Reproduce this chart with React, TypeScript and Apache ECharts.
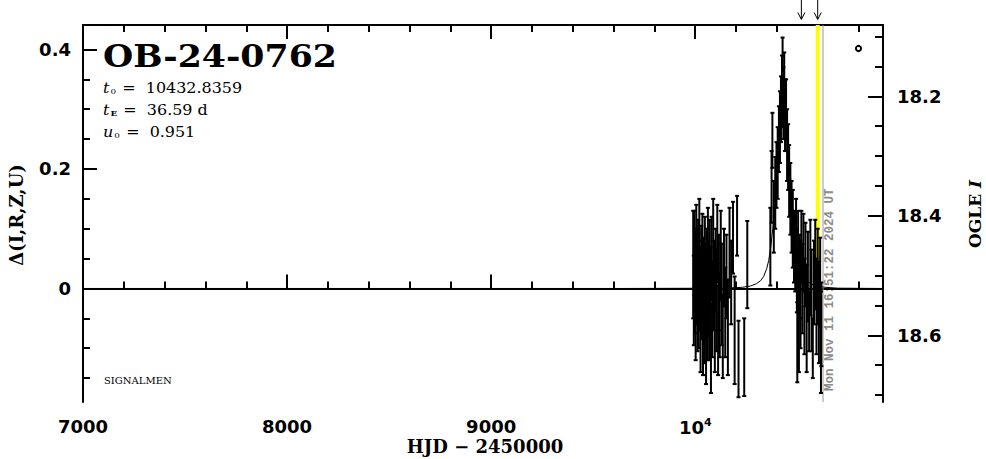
import React, { useEffect, useRef } from "react";
import * as echarts from "echarts";

// ---- axis ticks / labels ----
const xRange = [7000, 10920];
const xMajorTicks = [7000, 8000, 9000, 10000];
const xMinorTicks = [7200, 7400, 7600, 7800, 8200, 8400, 8600, 8800, 9200, 9400, 9600, 9800, 10200, 10400, 10600, 10800];
const deltaRange = [-0.19, 0.441];
const deltaMajorTicks = [0, 0.2, 0.4];
const deltaMinorTicks = [-0.15, -0.1, -0.05, 0.05, 0.1, 0.15, 0.25, 0.3, 0.35];
const baseMag = 18.5217;
const magMajorTicks = [18.2, 18.4, 18.6];
const magMinorTicks = [18.1, 18.15, 18.25, 18.3, 18.35, 18.45, 18.5, 18.55, 18.65, 18.7];

// ---- observations (HJD-2450000, delta mag, error) ----
const obsHjd = [
  9990, 9993, 9996, 9999, 10002, 10005, 10008, 10011, 10014, 10017, 10020, 10023, 10026, 10029, 10032,
  10035, 10038, 10041, 10044, 10047, 10050, 10053, 10056, 10059, 10062, 10065, 10068, 10071, 10074, 10077,
  10080, 10084, 10088, 10092, 10096, 10100, 10104, 10108, 10112, 10116, 10120, 10125, 10130, 10135, 10141,
  10147, 10153, 10160, 10168, 10176, 10185, 10193, 10205, 10212, 10240, 10255,
  10368, 10374, 10378, 10385, 10392, 10398, 10404, 10410, 10415, 10420, 10425, 10428, 10432, 10436, 10440, 10445,
  10450, 10455, 10460, 10466, 10472, 10478, 10484,
  10490, 10494, 10498, 10500, 10504, 10508, 10512, 10516, 10520, 10525, 10530, 10535, 10540, 10546, 10552,
  10558, 10564, 10570, 10576, 10582, 10588, 10594, 10600, 10606, 10612, 10616, 10618,
];
const obsDelta = [
  0.04, -0.02, 0.06, 0.01, -0.05, 0.08, 0.02, -0.03, 0.05, -0.01, 0.085, 0.0, -0.06, 0.03, -0.02,
  0.045, -0.07, 0.015, -0.04, 0.06, -0.005, -0.09, 0.025, -0.03, 0.07, 0.0, -0.05, 0.04, -0.015, -0.1,
  0.05, -0.035, 0.09, 0.005, -0.06, 0.03, -0.02, 0.075, -0.07, 0.01, -0.045, 0.055, -0.01, -0.08, 0.035,
  -0.04, 0.02, -0.065, 0.06, 0.01, 0.085, -0.07, 0.105, -0.118, -0.115, 0.04,
  0.07, 0.17, 0.248, 0.12, 0.16, 0.19, 0.21, 0.25, 0.27, 0.3, 0.33, 0.35, 0.31, 0.34, 0.29, 0.3,
  0.24, 0.22, 0.18, 0.15, 0.12, 0.1, 0.07,
  0.06, 0.09, 0.03, -0.09, 0.05, -0.085, 0.02, -0.01, 0.07, 0.0, 0.06, -0.03, 0.04, -0.05, 0.02,
  -0.055, 0.035, -0.02, -0.1, 0.01, 0.04, -0.03, 0.02, -0.04, 0.01, -0.09, -0.06,
];
const obsErr = [
  0.09, 0.075, 0.07, 0.085, 0.07, 0.06, 0.08, 0.075, 0.065, 0.09, 0.065, 0.07, 0.08, 0.075, 0.065,
  0.08, 0.075, 0.07, 0.085, 0.06, 0.08, 0.07, 0.075, 0.09, 0.065, 0.08, 0.07, 0.075, 0.085, 0.075,
  0.07, 0.08, 0.06, 0.075, 0.08, 0.07, 0.085, 0.065, 0.075, 0.08, 0.07, 0.075, 0.085, 0.07, 0.065,
  0.075, 0.07, 0.08, 0.075, 0.07, 0.06, 0.09, 0.05, 0.064, 0.065, 0.073,
  0.065, 0.06, 0.046, 0.06, 0.06, 0.055, 0.06, 0.055, 0.06, 0.055, 0.06, 0.07, 0.06, 0.055, 0.06, 0.05,
  0.06, 0.055, 0.06, 0.06, 0.06, 0.065, 0.06,
  0.065, 0.06, 0.07, 0.067, 0.08, 0.055, 0.07, 0.09, 0.06, 0.075, 0.065, 0.08, 0.07, 0.09, 0.075,
  0.05, 0.08, 0.085, 0.05, 0.07, 0.075, 0.08, 0.08, 0.085, 0.075, 0.085, 0.07,
];

// ---- model curve ----
const modelHjd = [7000, 9650, 10150, 10230, 10270, 10300, 10320, 10335, 10350, 10360, 10370, 10380, 10390, 10400, 10410, 10420, 10433,
  10446, 10456, 10466, 10476, 10486, 10496, 10506, 10516, 10531, 10546, 10566, 10596, 10636, 10700, 10920];
const modelDelta = [0, 0, 0.0005, 0.002, 0.004, 0.008, 0.013, 0.02, 0.033, 0.047, 0.07, 0.1, 0.14, 0.19, 0.24, 0.28, 0.3,
  0.28, 0.24, 0.19, 0.14, 0.1, 0.07, 0.047, 0.033, 0.02, 0.013, 0.008, 0.004, 0.002, 0.0005, 0];

// ---- markers ----
const highlightHjd = 10600;
const highlightBottom = -0.02;
const nowHjd = 10626.2;
const arrowHjd = [10520, 10600];

const eventName = "OB-24-0762";
const t0Text = "10432.8359";
const tEText = "36.59 d";
const u0Text = "0.951";
const stampText = "Mon Nov 11 16:51:22 2024 UT";

const labelFont = { fontFamily: "DejaVu Sans", fontWeight: "bold" as const, fontSize: 18, color: "#000" };

export default function App() {
  const ref = useRef<HTMLDivElement>(null);
  useEffect(() => {
    if (!ref.current) return;
    const chart = echarts.init(ref.current, undefined, { renderer: "svg" });
    const magMin = baseMag - deltaRange[1];
    const magMax = baseMag - deltaRange[0];
    const frame = { show: true, lineStyle: { color: "#000", width: 2 } };
    const noLine = { show: false };
    const mkX = (pos: string, ticks: number[], len: number, labels: boolean) => ({
      type: "value", position: pos, min: xRange[0], max: xRange[1], gridIndex: 0,
      axisLine: labels ? frame : noLine,
      splitLine: { show: false },
      axisTick: { show: true, inside: true, length: len, customValues: ticks, lineStyle: { color: "#000", width: 2 } },
      axisLabel: labels && pos === "bottom"
        ? {
            show: true, customValues: xMajorTicks, margin: 15, ...labelFont,
            formatter: (v: number) => (v === 10000 ? "{n|10}{s|4}" : String(v)),
            rich: {
              n: { ...labelFont },
              s: { fontFamily: "DejaVu Sans", fontWeight: "bold", fontSize: 11, color: "#000", padding: [0, 0, 9, 0] },
            },
          }
        : { show: false },
    });
    const mkY = (pos: string, ticks: number[], len: number, labels: boolean, mag: boolean) => ({
      type: "value", position: pos, gridIndex: 0,
      min: mag ? magMin : deltaRange[0], max: mag ? magMax : deltaRange[1], inverse: mag,
      axisLine: labels ? frame : noLine,
      splitLine: { show: false },
      axisTick: { show: true, inside: true, length: len, customValues: ticks, lineStyle: { color: "#000", width: 2 } },
      axisLabel: labels
        ? {
            show: true, customValues: mag ? magMajorTicks : deltaMajorTicks, margin: mag ? 14 : 12, ...labelFont,
            formatter: (v: number) => (mag ? v.toFixed(1) : v === 0 ? "0" : String(v)),
          }
        : { show: false },
    });

    const obsData = obsHjd.map((h, i) => [h, obsDelta[i], obsErr[i]]);
    const modelData = modelHjd.map((h, i) => [h, modelDelta[i]]);

    chart.setOption({
      animation: false,
      backgroundColor: "#fff",
      grid: { left: 83, right: 103, top: 25, bottom: 57 },
      xAxis: [
        mkX("bottom", xMajorTicks, 14, true),
        mkX("bottom", xMinorTicks, 7, false),
        mkX("top", xMajorTicks, 14, true),
        mkX("top", xMinorTicks, 7, false),
      ],
      yAxis: [
        mkY("left", deltaMajorTicks, 14, true, false),
        mkY("left", deltaMinorTicks, 7, false, false),
        mkY("right", magMajorTicks, 15, true, true),
        mkY("right", magMinorTicks, 8, false, true),
      ],
      series: [
        {
          type: "line", name: "now", xAxisIndex: 0, yAxisIndex: 0, silent: true, showSymbol: false,
          data: [[nowHjd, deltaRange[0]], [nowHjd, deltaRange[1]]],
          lineStyle: { color: "#9a9a9a", width: 1 }, z: 1,
        },
        {
          type: "line", name: "highlight", xAxisIndex: 0, yAxisIndex: 0, silent: true, showSymbol: false,
          data: [[highlightHjd, deltaRange[1]], [highlightHjd, highlightBottom]],
          lineStyle: { color: "#ffff00", width: 4 }, z: 2,
        },
        {
          type: "line", name: "model", xAxisIndex: 0, yAxisIndex: 0, silent: true, showSymbol: false,
          data: modelData, lineStyle: { color: "#000", width: 1 }, z: 3,
        },
        {
          type: "custom", name: "OGLE", xAxisIndex: 0, yAxisIndex: 0, clip: true, z: 4,
          encode: { x: 0, y: 1 },
          data: obsData,
          renderItem: (_p: any, api: any) => {
            const x = api.value(0), y = api.value(1), e = api.value(2);
            const top = api.coord([x, y + e]);
            const bot = api.coord([x, y - e]);
            const st = { stroke: "#000", lineWidth: 2 };
            return {
              type: "group",
              children: [
                { type: "line", shape: { x1: top[0], y1: top[1], x2: bot[0], y2: bot[1] }, style: st },
                { type: "line", shape: { x1: top[0] - 2, y1: top[1], x2: top[0] + 2, y2: top[1] }, style: st },
                { type: "line", shape: { x1: bot[0] - 2, y1: bot[1], x2: bot[0] + 2, y2: bot[1] }, style: st },
              ],
            };
          },
        },
      ],
    });

    const arrows = arrowHjd.map((h) => {
      const px = chart.convertToPixel({ xAxisIndex: 0 }, h) as number;
      return {
        type: "group",
        children: [
          { type: "line", shape: { x1: px, y1: 0, x2: px, y2: 19 }, style: { stroke: "#000", lineWidth: 1 } },
          { type: "polyline", shape: { points: [[px - 3.5, 12.5], [px, 19.5], [px + 3.5, 12.5]] }, style: { stroke: "#000", lineWidth: 1, fill: "none" } },
        ],
      };
    });

    const paramRich = (subBold: boolean) => ({
      i: { fontFamily: "DejaVu Serif", fontStyle: "italic", fontSize: 14.5, fill: "#000" },
      s: { fontFamily: "DejaVu Serif", fontWeight: subBold ? "bold" : "normal", fontSize: 8, fill: "#000", padding: [7, 1, 0, 1] },
      n: { fontFamily: "DejaVu Serif", fontSize: 14.5, fill: "#000" },
    });

    chart.setOption({
      graphic: [
        { type: "text", x: 103, y: 56, scaleX: 1.12, style: { text: eventName, font: "bold 31px 'DejaVu Serif'", fill: "#000", verticalAlign: "middle", align: "left" } },
        { type: "text", x: 103, y: 88, scaleX: 1.1, style: { text: "{i|t}{s|0}{n| =  " + t0Text + "}", verticalAlign: "middle", rich: paramRich(false) } },
        { type: "text", x: 103, y: 110, scaleX: 1.1, style: { text: "{i|t}{s|E}{n| =  " + tEText + "}", verticalAlign: "middle", rich: paramRich(true) } },
        { type: "text", x: 103, y: 132, scaleX: 1.1, style: { text: "{i|u}{s|0}{n| =  " + u0Text + "}", verticalAlign: "middle", rich: paramRich(false) } },
        { type: "text", x: 104, y: 380, style: { text: "SIGNALMEN", font: "10px 'DejaVu Serif'", fill: "#000", verticalAlign: "middle" } },
        { type: "text", x: 485, y: 446, style: { text: "HJD − 2450000", font: "bold 18px 'DejaVu Serif'", fill: "#000", align: "center", verticalAlign: "middle" } },
        { type: "text", x: 16, y: 215, rotation: Math.PI / 2, style: { text: "Δ(I,R,Z,U)", font: "bold 18px 'DejaVu Serif'", fill: "#000", align: "center", verticalAlign: "middle" } },
        {
          type: "text", x: 975, y: 214, rotation: Math.PI / 2,
          style: {
            text: "{r|OGLE }{i|I}", align: "center", verticalAlign: "middle",
            rich: {
              r: { fontFamily: "DejaVu Serif", fontWeight: "bold", fontSize: 17, fill: "#000" },
              i: { fontFamily: "DejaVu Serif", fontWeight: "bold", fontStyle: "italic", fontSize: 17, fill: "#000" },
            },
          },
        },
        { type: "text", x: 830, y: 391, rotation: Math.PI / 2, style: { text: stampText, font: "bold 12.5px 'Liberation Mono'", fill: "#8c8c8c", align: "left", verticalAlign: "middle" } },
        { type: "circle", shape: { cx: 858.5, cy: 48.5, r: 2.6 }, style: { fill: "none", stroke: "#000", lineWidth: 2 } },
        ...arrows,
      ],
    });
    return () => chart.dispose();
  }, []);
  return <div ref={ref} style={{ position: "fixed", left: 0, top: 0, width: 986, height: 459 }} />;
}
